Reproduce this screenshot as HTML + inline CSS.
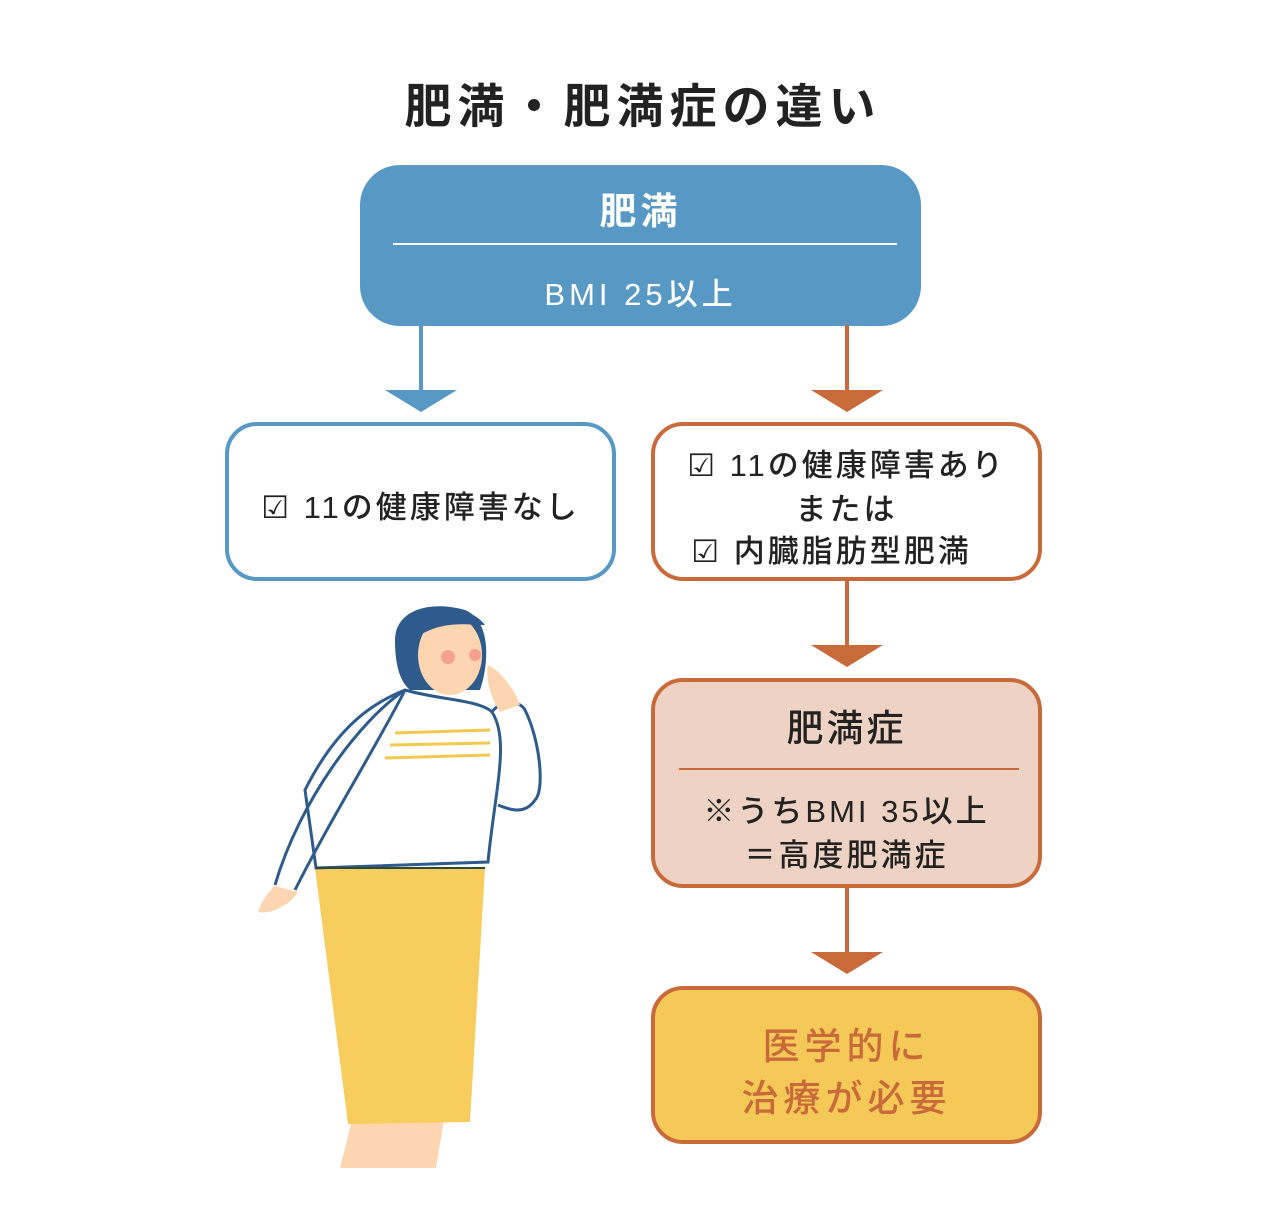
<!DOCTYPE html>
<html><head><meta charset="utf-8"><style>
body{margin:0;background:#fff;width:1280px;height:1221px;position:relative;overflow:hidden;font-family:"Liberation Sans","Noto Sans CJK JP",sans-serif;font-weight:500;}
.a{position:absolute;box-sizing:border-box;}
.t{position:absolute;left:0;width:100%;text-align:center;white-space:nowrap;}
</style></head><body>
<div class="t" style="top:68px;font-size:47px;font-weight:bold;color:#222;letter-spacing:6px;text-indent:6px">肥満・肥満症の違い</div>

<div class="a" style="left:360px;top:165px;width:561px;height:161px;background:#5799c4;border-radius:40px;">
 <div class="t" style="top:16px;font-size:37px;color:#fff;font-weight:bold;letter-spacing:4px">肥満</div>
 <div class="a" style="left:33px;top:78px;width:504px;height:2px;background:#fff"></div>
 <div class="t" style="top:104px;font-size:31px;color:#fff;letter-spacing:4px">BMI 25以上</div>
</div>

<svg class="a" style="left:0;top:0" width="1280" height="1221">
 <line x1="421" y1="325" x2="421" y2="392" stroke="#5799c4" stroke-width="4"/>
 <polygon points="385,390 457,390 421,412" fill="#5799c4"/>
 <line x1="847" y1="325" x2="847" y2="392" stroke="#c96a3b" stroke-width="4"/>
 <polygon points="811,390 883,390 847,412" fill="#c96a3b"/>
 <line x1="847" y1="580" x2="847" y2="647" stroke="#c96a3b" stroke-width="4"/>
 <polygon points="811,645 883,645 847,667" fill="#c96a3b"/>
 <line x1="847" y1="887" x2="847" y2="954" stroke="#c96a3b" stroke-width="4"/>
 <polygon points="811,952 883,952 847,974" fill="#c96a3b"/>
 <path d="M352,1120 L340,1168 L436,1168 L444,1120 Z" fill="#fdd5b1"/>
 <path d="M315,868 L485,868 L470,1122 L348,1124 Z" fill="#f7cd5e"/>
 <path d="M395,640 C395,610 430,600 465,610 C490,620 490,660 480,690 L470,690 L410,690 C398,680 395,660 395,640Z" fill="#2f5b8c"/>
 <ellipse cx="450" cy="655" rx="32" ry="40" fill="#fdd5b1"/>
 <path d="M420,625 C435,605 470,605 485,625 C470,625 445,620 420,635Z" fill="#2f5b8c"/>
 <circle cx="448" cy="657" r="7" fill="#f4a38a"/><circle cx="475" cy="655" r="6" fill="#f4a38a"/>
 <path d="M405,690 C440,700 480,700 492,712 C510,740 495,790 488,862 L316,868 L305,790 C340,720 380,700 405,690Z" fill="#fff" stroke="#2f5b8c" stroke-width="3"/>
 <path d="M395,733 L490,730 M390,745 L490,743 M385,758 L490,755" stroke="#f3c84f" stroke-width="3"/>
 <path d="M405,690 C360,720 300,800 275,885" fill="none" stroke="#2f5b8c" stroke-width="3"/>
 <path d="M405,690 C380,740 330,820 295,890" fill="none" stroke="#2f5b8c" stroke-width="3"/>
 <path d="M275,886 L298,892 C290,905 270,915 258,912 C262,900 268,892 275,886Z" fill="#fdd5b1"/>
 <path d="M492,712 C500,700 520,700 525,710 C540,740 545,790 535,800 C525,815 510,810 498,805" fill="none" stroke="#2f5b8c" stroke-width="3"/>
 <path d="M488,665 C500,670 515,690 520,705 L500,712 C492,700 485,680 488,665Z" fill="#fdd5b1"/>
 <line x1="316" y1="868" x2="485" y2="868" stroke="#2f4a3a" stroke-width="2"/>
</svg>

<div class="a" style="left:225px;top:422px;width:391px;height:159px;border:4px solid #5799c4;border-radius:32px;">
 <div class="t" style="top:56px;font-size:31px;color:#222;letter-spacing:3px">☑ 11の健康障害なし</div>
</div>
<div class="a" style="left:651px;top:422px;width:391px;height:159px;border:4px solid #c96a3b;border-radius:32px;">
 <div class="t" style="top:14px;font-size:31px;color:#222;letter-spacing:3px">☑ 11の健康障害あり</div>
 <div class="t" style="top:58px;font-size:31px;color:#222;letter-spacing:3px">または</div>
 <div class="t" style="top:100px;font-size:31px;color:#222;letter-spacing:3px;text-indent:-30px">☑ 内臓脂肪型肥満</div>
</div>
<div class="a" style="left:651px;top:678px;width:391px;height:210px;border:4px solid #c96a3b;border-radius:32px;background:#eed3c4;">
 <div class="t" style="top:16px;font-size:37px;color:#222;letter-spacing:3px">肥満症</div>
 <div class="a" style="left:24px;top:86px;width:340px;height:2px;background:#c96a3b"></div>
 <div class="t" style="top:104px;font-size:31px;color:#222;letter-spacing:3px">※うちBMI 35以上</div>
 <div class="t" style="top:148px;font-size:31px;color:#222;letter-spacing:3px">＝高度肥満症</div>
</div>
<div class="a" style="left:651px;top:986px;width:391px;height:158px;border:4px solid #c96a3b;border-radius:32px;background:#f5c957;">
 <div class="t" style="top:26px;font-size:37px;color:#c96a3b;letter-spacing:5px">医学的に</div>
 <div class="t" style="top:78px;font-size:37px;color:#c96a3b;letter-spacing:5px">治療が必要</div>
</div>
</body></html>
